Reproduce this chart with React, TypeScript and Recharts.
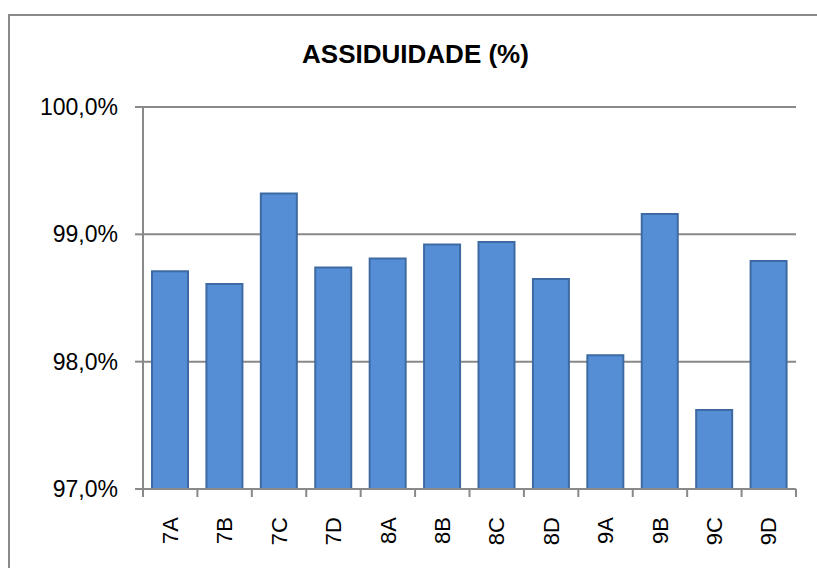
import React from 'react';
import { BarChart, Bar, XAxis, YAxis, CartesianGrid } from 'recharts';

const turmas = ['7A', '7B', '7C', '7D', '8A', '8B', '8C', '8D', '9A', '9B', '9C', '9D'];
const assiduidade = [98.71, 98.61, 99.32, 98.74, 98.81, 98.92, 98.94, 98.65, 98.05, 99.16, 97.62, 98.79];
const yTicks = [97, 98, 99, 100];

const data = turmas.map((name, i) => ({ name, value: assiduidade[i] }));

const W = 817;
const H = 568;
const PLOT_LEFT = 143;
const PLOT_RIGHT = 796;
const BAND = (PLOT_RIGHT - PLOT_LEFT) / turmas.length;
const FONT = '"Liberation Sans", Arial, sans-serif';
const GREY = '#898989';

const formatPct = (v: number) => `${v.toFixed(1).replace('.', ',')}%`;

const XTick = (props: any) => {
  const { x, y, payload, index } = props;
  const last = index === turmas.length - 1;
  return (
    <g>
      <line x1={x - BAND / 2} y1={y} x2={x - BAND / 2} y2={y + 8} stroke={GREY} strokeWidth={2} />
      {last && <line x1={x + BAND / 2} y1={y} x2={x + BAND / 2} y2={y + 8} stroke={GREY} strokeWidth={2} />}
      <text
        x={x}
        y={y + 28}
        transform={`rotate(-90, ${x}, ${y + 28})`}
        textAnchor="end"
        dy="0.35em"
        fill="#000"
        fontSize={22}
        fontFamily={FONT}
      >
        {payload.value}
      </text>
    </g>
  );
};

export default function App() {
  return (
    <div>
      <div
        style={{
          position: 'fixed',
          left: 8,
          top: 14,
          width: W - 8,
          height: H - 14,
          boxSizing: 'border-box',
          borderLeft: `2px solid ${GREY}`,
          borderTop: `2px solid ${GREY}`,
          background: '#fff',
        }}
      />
      <div style={{ position: 'fixed', left: 0, top: 0, width: W, height: H }}>
        <BarChart
          width={W}
          height={H}
          data={data}
          margin={{ top: 107, right: W - PLOT_RIGHT, left: PLOT_LEFT - 80, bottom: 19 }}
        >
          <CartesianGrid vertical={false} stroke={GREY} strokeWidth={2} />
          <XAxis
            dataKey="name"
            height={60}
            interval={0}
            tickSize={0}
            tickMargin={0}
            tickLine={false}
            axisLine={{ stroke: GREY, strokeWidth: 2 }}
            tick={<XTick />}
          />
          <YAxis
            width={80}
            domain={[97, 100]}
            ticks={yTicks}
            interval={0}
            tickSize={8}
            tickMargin={17}
            tickFormatter={formatPct}
            tickLine={{ stroke: GREY, strokeWidth: 2 }}
            axisLine={{ stroke: GREY, strokeWidth: 2 }}
            tick={{ fill: '#000', fontSize: 23, fontFamily: FONT }}
          />
          <Bar dataKey="value" fill="#558ed5" stroke="#3e6aa3" strokeWidth={2} barSize={36} isAnimationActive={false} />
        </BarChart>
      </div>
      <svg width={W} height={H} style={{ position: 'fixed', left: 0, top: 0, pointerEvents: 'none' }}>
        <text x={415.5} y={63} textAnchor="middle" fontSize={26} fontWeight="bold" fontFamily={FONT} fill="#000">
          ASSIDUIDADE (%)
        </text>
      </svg>
    </div>
  );
}
